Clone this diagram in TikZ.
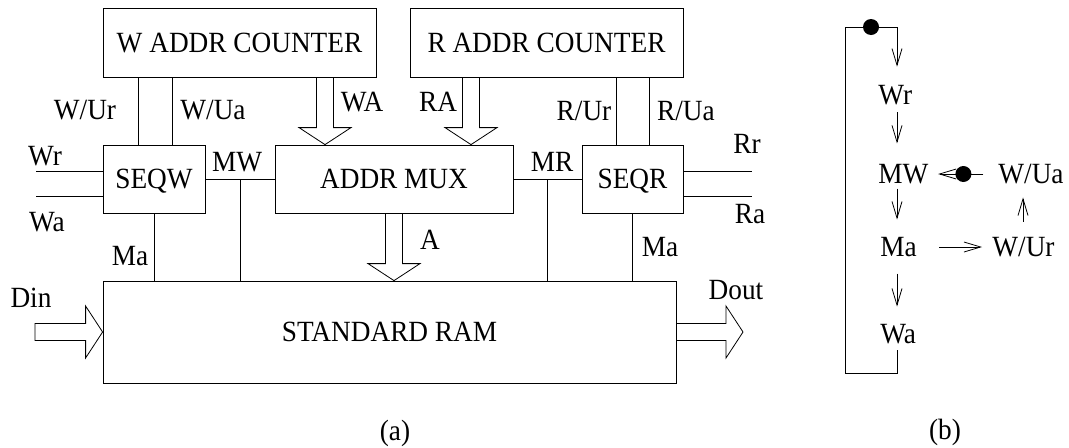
\documentclass[tikz,border=0pt]{standalone}
\usepackage{fontspec}
\setmainfont{Liberation Serif}[FakeStretch=0.93]
\usetikzlibrary{calc,arrows.meta}

\begin{document}
\begin{tikzpicture}[x=0.75pt,y=0.75pt,yscale=-1,line width=0.6pt,
  every node/.style={font=\fontsize{22}{26}\selectfont,text height=14.6pt,text depth=0pt,inner sep=0pt},
  box/.style={draw,minimum height=51pt},
  lab/.style={anchor=center},
  st/.style={anchor=west},
  dot/.style={circle,fill,text height=0pt,minimum size=12pt},
  barb/.style={-{Straight Barb[length=12.5pt,width=7.5pt]}},
  fat/.style={to path={
    ($(\tikztotarget)!12.75pt!(\tikztostart)$) coordinate (fh)
    ($(\tikztostart)!6.4pt!90:(\tikztotarget)$)
    -- ($(fh)!6.4pt!90:(\tikztotarget)$)
    -- ($(fh)!19.5pt!90:(\tikztotarget)$)
    -- (\tikztotarget)
    -- ($(fh)!19.5pt!-90:(\tikztotarget)$)
    -- ($(fh)!6.4pt!-90:(\tikztotarget)$)
    -- ($(\tikztostart)!6.4pt!-90:(\tikztotarget)$) -- cycle}}]
\useasboundingbox (0,0) rectangle (1069,447);

%% (a) block diagram
% Boxes
\node[box,minimum width=204.75pt,minimum height=51.75pt] (wcnt) at (239.5,42.5) {W ADDR COUNTER};
\node[box,minimum width=204.75pt,minimum height=51.75pt] (rcnt) at (546.5,42.5) {R ADDR COUNTER};
\node[box,minimum width=76.5pt] (seqw) at (154,179) {SEQW};
\node[box,minimum width=178.5pt] (mux) at (394,179) {ADDR MUX};
\node[box,minimum width=75.75pt] (seqr) at (632.5,179) {SEQR};
\node[box,minimum width=429.75pt,minimum height=76.5pt] (ram) at (389.5,332) {STANDARD RAM};

% Wire positions
\coordinate (xwur) at (138,0);
\coordinate (xwua) at (172,0);
\coordinate (xrur) at (616,0);
\coordinate (xrua) at (649,0);
\coordinate (xwa) at (325,0);
\coordinate (xra) at (471,0);
\coordinate (wrin) at (36,171);
\coordinate (wain) at (36,196);
\coordinate (rrout) at (752,171);
\coordinate (raout) at (752,196);
\coordinate (jmw) at ($(seqw.east)!0.5!(mux.west)$);
\coordinate (jmr) at ($(mux.east)!0.5!(seqr.west)$);
\coordinate (din) at (35,332);
\coordinate (dout) at (743,332);

% Wires
\draw (seqw.north -| xwur) -- (wcnt.south -| xwur);
\draw (seqw.north -| xwua) -- (wcnt.south -| xwua);
\draw (seqr.north -| xrur) -- (rcnt.south -| xrur);
\draw (seqr.north -| xrua) -- (rcnt.south -| xrua);
\draw (wrin) -- (wrin -| seqw.west);
\draw (wain) -- (wain -| seqw.west);
\draw (rrout -| seqr.east) -- (rrout);
\draw (raout -| seqr.east) -- (raout);
\draw (seqw.east) -- (mux.west);
\draw (mux.east) -- (seqr.west);
\draw (jmw) -- (jmw |- ram.north);
\draw (jmr) -- (jmr |- ram.north);
\draw (seqw.south) -- (seqw.south |- ram.north);
\draw (seqr.south) -- (seqr.south |- ram.north);

% Bus arrows
\draw (wcnt.south -| xwa) to[fat] (mux.north -| xwa);
\draw (rcnt.south -| xra) to[fat] (mux.north -| xra);
\draw (mux.south) to[fat] (mux.south |- ram.north);
\draw (din) to[fat] (ram.west);
\draw (ram.east) to[fat] (dout);

% Text Node
\node[lab] (tWUr) at (85,110) {W/Ur};
\node[lab] (tWUa) at (213,110) {W/Ua};
\node[lab] (tWA) at (362,102) {WA};
\node[lab] (tRA) at (438,102) {RA};
\node[lab] (tRUr) at (584,111) {R/Ur};
\node[lab] (tRUa) at (686,111) {R/Ua};
\node[lab] (tWr) at (45,156) {Wr};
\node[lab] (tWa) at (47,222) {Wa};
\node[lab] (tRr) at (747,144) {Rr};
\node[lab] (tRa) at (750,214) {Ra};
\node[lab] (tMW) at (237,162) {MW};
\node[lab] (tMR) at (552,162) {MR};
\node[lab] (tMaW) at (130,256) {Ma};
\node[lab] (tMaR) at (660,247) {Ma};
\node[lab] (tA) at (430,240) {A};
\node[lab] (tDin) at (31,298) {Din};
\node[lab] (tDout) at (736,290) {Dout};
\node[lab] (capa) at (395,431) {(a)};

%% (b) state sequence
\node[st] (wr2) at (878,94.5) {Wr};
\node[st] (mw2) at (878,174) {MW};
\node[st] (ma2) at (880,247) {Ma};
\node[st] (wa2) at (880,334) {Wa};
\node[st] (wua2) at (998,174) {W/Ua};
\node[st] (wur2) at (992,247) {W/Ur};
\node[lab] (capb) at (945,430) {(b)};

\coordinate (col) at (897,0);
\coordinate (col2) at (1023,0);
\coordinate (lbot) at (845,373);
\coordinate (ltop) at (845,27);

\draw[barb,shorten <=4.7pt,shorten >=13.3pt] (wa2.south -| col) |- (lbot) -- (ltop) -| (wr2.north -| col);
\node[dot] (d1) at ($(ltop)!0.5!(ltop -| col)$) {};
\draw[barb,shorten <=5.8pt,shorten >=15.3pt] (wr2.south -| col) -- (mw2.north -| col);
\draw[barb,shorten <=3.3pt,shorten >=13pt] (mw2.south -| col) -- (ma2.north -| col);
\draw[barb,shorten <=12.3pt,shorten >=13pt] (ma2.south -| col) -- (wa2.north -| col);
\draw[barb,shorten <=16.5pt,shorten >=7.5pt] (ma2.east) -- (wur2.west);
\draw[barb,shorten <=11.3pt,shorten >=10pt] (wur2.north -| col2) -- (wua2.south -| col2);
\draw[barb,shorten <=11pt,shorten >=7pt] (wua2.west) -- (mw2.east);
\node[dot] (d2) at ($(mw2.east)!0.5!(wua2.west)$) {};

\end{tikzpicture}
\end{document}
